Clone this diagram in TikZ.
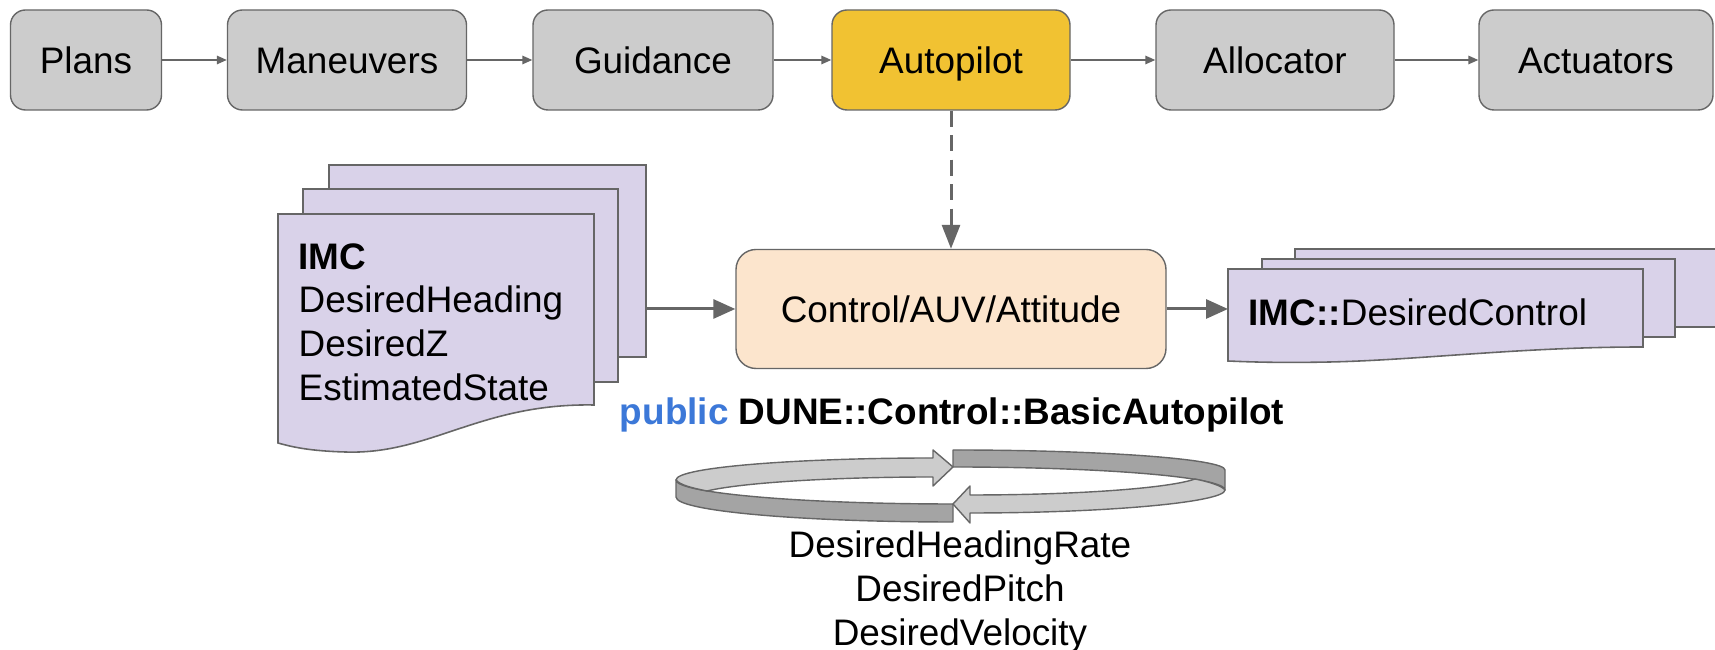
\documentclass[tikz,border=0pt]{standalone}
\usepackage{fontspec}
\setmainfont{Liberation Sans}
\usetikzlibrary{arrows.meta}
\definecolor{boxgray}{HTML}{CCCCCC}
\definecolor{linegray}{HTML}{666666}
\definecolor{autoyellow}{HTML}{F1C232}
\definecolor{ctrlpeach}{HTML}{FCE5CD}
\definecolor{doclilac}{HTML}{D9D2E9}
\definecolor{banddark}{HTML}{A4A4A4}
\definecolor{bandlight}{HTML}{CCCCCC}
\definecolor{pubblue}{HTML}{3C78D8}
\begin{document}
\begin{tikzpicture}[x=0.1mm, y=-0.1mm,
  every node/.style={font=\fontsize{10.5}{12.4}\selectfont},
  stage/.style={shape=rectangle, rounded corners=1.5mm, draw=linegray, line width=0.4pt, fill=boxgray, minimum height=10mm, text height=2.65mm, text depth=0mm},
  flow/.style={-{Triangle[length=1mm, width=0.85mm]}, draw=linegray, line width=0.45pt},
  bigflow/.style={-{Triangle[length=2.2mm, width=1.9mm]}, draw=linegray, line width=0.85pt},
  sheet/.style={draw=linegray, line width=0.45pt, fill=doclilac},
  ribbon/.style={draw=linegray, line width=0.4pt, line join=round}]
\fill[white] (0,0) rectangle (1715,650);
\useasboundingbox (0,0) rectangle (1715,650);
% pipeline
\node[stage, minimum width=15.1mm] (Plans) at (86,60) {Plans};
\node[stage, minimum width=23.9mm] (Maneuvers) at (347,60) {Maneuvers};
\node[stage, minimum width=24mm] (Guidance) at (653,60) {Guidance};
\node[stage, minimum width=23.8mm, fill=autoyellow] (Autopilot) at (951,60) {Autopilot};
\node[stage, minimum width=23.8mm] (Allocator) at (1275,60) {Allocator};
\node[stage, minimum width=23.4mm] (Actuators) at (1596,60) {Actuators};
\draw[flow] (Plans) -- (Maneuvers);
\draw[flow] (Maneuvers) -- (Guidance);
\draw[flow] (Guidance) -- (Autopilot);
\draw[flow] (Autopilot) -- (Allocator);
\draw[flow] (Allocator) -- (Actuators);
% task
\node[stage, rounded corners=2mm, fill=ctrlpeach, minimum width=43mm, minimum height=11.9mm] (Ctrl) at (951,309) {Control/AUV/Attitude};
\draw[bigflow, -{Triangle[length=2.4mm, width=1.8mm]}, dash pattern=on 1.6mm off 0.85mm] (Autopilot) -- (Ctrl);
% input messages
\draw[sheet] (329,165) rectangle (646,357);
\draw[sheet] (303,189) rectangle (618,382);
\draw[sheet] (278,214) -- (594,214) -- (594,405) .. controls (480,403) and (430,455) .. (345,452) .. controls (310,451) and (292,447) .. (278,443) -- cycle;
\node[anchor=west, align=left, inner sep=0] (MsgIn) at (298,322) {\textbf{IMC}\\DesiredHeading\\DesiredZ\\EstimatedState};
\coordinate (InEnd) at (646,309);
\draw[bigflow] (InEnd) -- (Ctrl);
% output messages
\draw[sheet] (1295,249) rectangle (1730,327);
\draw[sheet] (1262,259) rectangle (1675,337);
\draw[sheet] (1228,269) -- (1643,269) -- (1643,347) .. controls (1520,347) and (1420,360) .. (1330,362) .. controls (1280,363) and (1250,362) .. (1228,361) -- cycle;
\node[anchor=west, inner sep=0] (MsgOut) at (1248,312) {\textbf{IMC::}DesiredControl};
\coordinate (OutEnd) at (1228,309);
\draw[bigflow] (Ctrl) -- (OutEnd);
\node[anchor=base, inner sep=0] (Base) at (952,425) {\textbf{\color{pubblue}public} \textbf{DUNE::Control::BasicAutopilot}};
% loop
\filldraw[ribbon, fill=banddark] (953,504) .. controls (800,504) and (676,493) .. (676,480) -- (676,497) .. controls (676,511) and (800,522) .. (953,522) -- cycle;
\filldraw[ribbon, fill=bandlight] (676,480) .. controls (676,467) and (800,458) .. (933,458) -- (933,450) -- (953,467) -- (933,486) -- (933,477) .. controls (830,477) and (740,483) .. (707,491) .. controls (692,488) and (680,485) .. (676,480) -- cycle;
\filldraw[ribbon, fill=banddark] (953,450) .. controls (1103,450) and (1225,459) .. (1225,470) -- (1225,490) .. controls (1225,477) and (1103,467) .. (953,467) -- cycle;
\filldraw[ribbon, fill=bandlight] (1225,490) .. controls (1225,502) and (1110,513) .. (970,513) -- (970,523) -- (953,504) -- (970,486) -- (970,495) .. controls (1080,495) and (1170,488) .. (1195,479) .. controls (1210,482) and (1222,486) .. (1225,490) -- cycle;
\node[align=center, inner sep=0] (Setpoints) at (960,592) {DesiredHeadingRate\\DesiredPitch\\DesiredVelocity};
\end{tikzpicture}
\end{document}
